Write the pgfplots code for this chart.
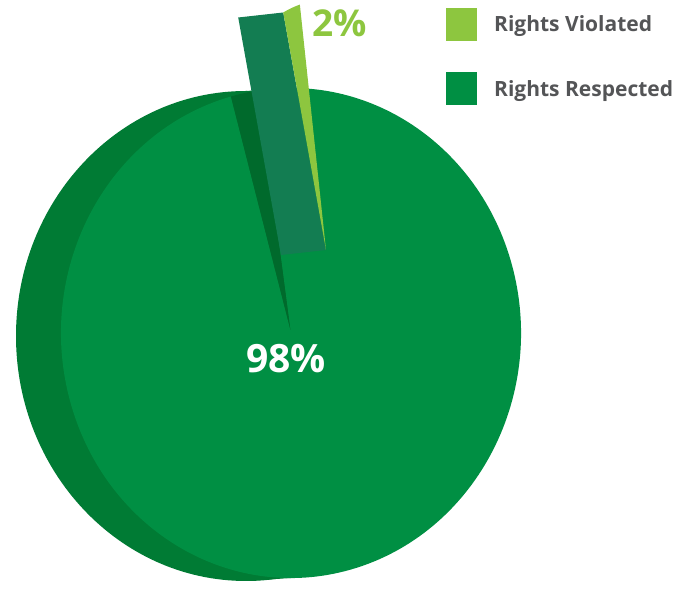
\documentclass[border=0pt]{standalone}
\usepackage{pgfplots}
\usepackage{pgfplotstable}
\pgfplotsset{compat=1.18}
\usepackage{fontspec}
\setmainfont{Open Sans}
\definecolor{face}{HTML}{008F43}
\definecolor{side}{HTML}{007B34}
\definecolor{wall}{HTML}{006A2C}
\definecolor{teal}{HTML}{137D52}
\definecolor{lightg}{HTML}{8DC63F}
\definecolor{txt}{HTML}{545557}
\pgfplotstableread{
label value
Violated 2
Respected 98
}\pietable
\begin{document}%
\begin{tikzpicture}
\pgfplotstablegetelem{0}{value}\of\pietable \let\valV\pgfplotsretval
\pgfplotstablegetelem{1}{value}\of\pietable \let\valR\pgfplotsretval
\pgfmathsetmacro\spanV{360*\valV/(\valV+\valR)}
% gap in main pie
\pgfmathsetmacro\gapA{98}
\pgfmathsetmacro\gapB{\gapA+\spanV}
\pgfmathsetmacro\gapEnd{\gapA+360}
% exploded slice
\pgfmathsetmacro\slA{101}
\pgfmathsetmacro\slB{\slA+\spanV}
\begin{axis}[x=1pt,y=1pt,xmin=0,xmax=680,ymin=0,ymax=585,hide axis,clip=false,
  scale only axis]
\path (axis cs:0,0) rectangle (axis cs:680,585);
% side (depth) of the pie
\fill[side] (axis cs:246,249) ellipse [x radius=230pt, y radius=245pt];
\fill[side] (axis cs:246,4) -- (axis cs:291,7) -- (axis cs:291,497) -- (axis cs:246,494) -- cycle;
% wall visible in the gap
\fill[wall] (axis cs:291,252) -- ++(\gapA:230pt and 245pt)
   arc[start angle=\gapA, end angle=\gapB, x radius=230pt, y radius=245pt] -- cycle;
% main face (98%)
\fill[face] (axis cs:291,252) -- ++(\gapB:230pt and 245pt)
   arc[start angle=\gapB, end angle=\gapEnd, x radius=230pt, y radius=245pt] -- cycle;
% exploded slice side
\fill[teal] (axis cs:326,335) -- ++(\slB:137pt and 250pt) -- ++(-45pt,-5pt)
   -- (axis cs:281,330) -- cycle;
% exploded slice face (2%)
\fill[lightg] (axis cs:326,335) -- ++(\slA:137pt and 250pt)
   arc[start angle=\slA, end angle=\slB, x radius=137pt, y radius=250pt] -- cycle;
% labels
\node[anchor=base west, inner sep=0pt, text=lightg, font=\fontsize{37}{40}\selectfont\bfseries]
  at (axis cs:312,548) {2\%};
\node[anchor=base, inner sep=0pt, text=white, font=\fontsize{39}{42}\selectfont\bfseries]
  at (axis cs:286,212) {98\%};
% legend
\fill[lightg] (axis cs:446,544) rectangle (axis cs:477,577);
\fill[face] (axis cs:446,480) rectangle (axis cs:477,513);
\node[anchor=base west, inner sep=0pt, text=txt, font=\fontsize{21}{24}\selectfont\bfseries]
  at (axis cs:494,553) {Rights Violated};
\node[anchor=base west, inner sep=0pt, text=txt, font=\fontsize{21}{24}\selectfont\bfseries]
  at (axis cs:494,488) {Rights Respected};
\end{axis}
\end{tikzpicture}%
\end{document}
